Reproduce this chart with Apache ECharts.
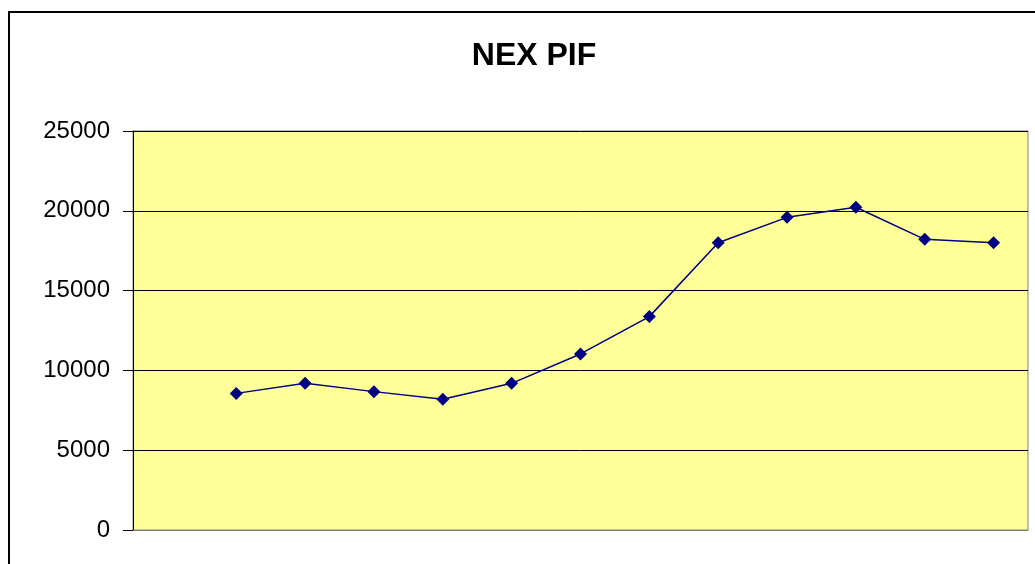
<!DOCTYPE html>
<html>
<head>
<meta charset="utf-8">
<script src="https://cdn.jsdelivr.net/npm/echarts@6/dist/echarts.min.js"></script>
<style>
html,body{margin:0;padding:0;background:#fff;}
#chart{width:1035px;height:564px;}
</style>
</head>
<body>
<div id="chart"></div>
<script>
var titleText = 'NEX PIF';
var categories = ['', '1', '2', '3', '4', '5', '6', '7', '8', '9', '10', '11', '12'];
var values = [null, 8560, 9190, 8670, 8190, 9190, 11030, 13370, 18000, 19590, 20220, 18210, 18000];
var yTicks = { min: 0, max: 25000, interval: 5000 };

var chart = echarts.init(document.getElementById('chart'));
chart.setOption({
  animation: false,
  backgroundColor: '#ffffff',
  title: {
    text: titleText,
    left: 529,
    textAlign: 'center',
    top: 35,
    textStyle: { fontFamily: 'Liberation Sans, Arial, sans-serif', fontWeight: 'bold', fontSize: 32, color: '#000' }
  },
  graphic: [{
    type: 'rect',
    shape: { x: 9, y: 12, width: 1100, height: 700 },
    style: { fill: 'none', stroke: '#000', lineWidth: 2 },
    silent: true,
    z: 100
  }],
  grid: {
    left: 133, right: 7, top: 131, bottom: 34,
    show: true, backgroundColor: '#FFFF99', borderColor: '#808080', borderWidth: 1
  },
  xAxis: {
    type: 'category',
    data: categories,
    boundaryGap: true,
    axisLine: { show: true, lineStyle: { color: '#808080', width: 1 } },
    axisTick: { show: false },
    axisLabel: { show: false },
    splitLine: { show: false }
  },
  yAxis: {
    type: 'value',
    min: yTicks.min, max: yTicks.max, interval: yTicks.interval,
    axisLine: { show: true, lineStyle: { color: '#000', width: 1 } },
    axisTick: { show: true, length: 10, lineStyle: { color: '#000' } },
    axisLabel: {
      margin: 23, fontFamily: 'Liberation Sans, Arial, sans-serif', fontSize: 24, color: '#000',
      formatter: function (v) { return String(v); }
    },
    splitLine: { show: true, lineStyle: { color: '#000', width: 1 } }
  },
  series: [{
    type: 'line',
    data: values,
    connectNulls: false,
    symbol: 'diamond',
    symbolSize: 13,
    lineStyle: { color: '#000080', width: 1.5 },
    itemStyle: { color: '#000080' }
  }]
});
</script>
</body>
</html>
